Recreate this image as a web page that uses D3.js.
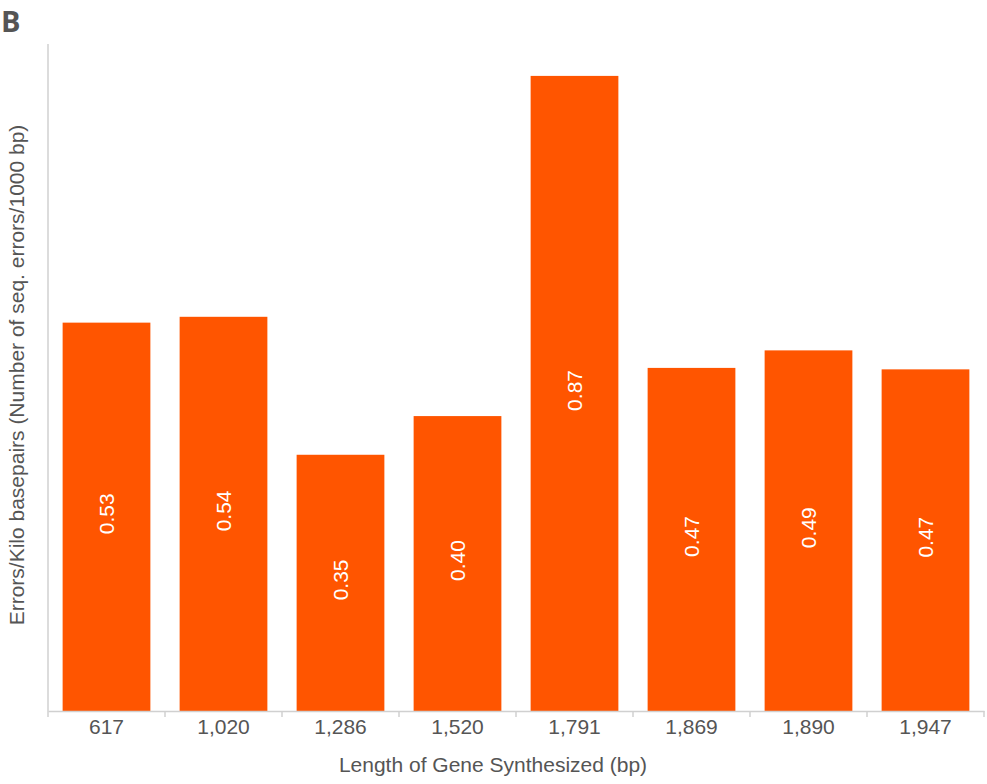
<!DOCTYPE html>
<html><head><meta charset="utf-8">
<script src="https://cdn.jsdelivr.net/npm/d3@7"></script>
<style>body{margin:0;background:#fff}svg{display:block}</style>
</head><body>
<svg id="c" width="987" height="784"></svg>
<script>
const categories = ["617","1,020","1,286","1,520","1,791","1,869","1,890","1,947"];
const values = [0.532,0.540,0.351,0.404,0.870,0.470,0.494,0.468];
const labels = ["0.53","0.54","0.35","0.40","0.87","0.47","0.49","0.47"];

const svg = d3.select("#c");
const font = "'Liberation Sans', Arial, sans-serif";
const fs = 21;
const x = d3.scaleBand().domain(categories).range([48,984]).paddingInner(0.25).paddingOuter(0.125);
const y = d3.scaleLinear().domain([0,0.9137]).range([711,44]);

svg.selectAll("rect.bar").data(values).join("rect")
  .attr("class","bar")
  .attr("x",(d,i)=>x(categories[i]))
  .attr("width",x.bandwidth())
  .attr("y",d=>y(d))
  .attr("height",d=>y(0)-y(d))
  .attr("fill","#ff5500");

svg.selectAll("text.val").data(values).join("text")
  .attr("class","val")
  .attr("transform",(d,i)=>`translate(${x(categories[i])+x.bandwidth()/2+7.5},${(y(d)+y(0))/2-3}) rotate(-90)`)
  .attr("text-anchor","middle")
  .attr("font-family",font).attr("font-size",fs).attr("fill","#fff")
  .text((d,i)=>labels[i]);

// x axis
const xb = d3.scaleBand().domain(categories).range([48,984]);
const gx = svg.append("g").attr("transform","translate(0,711)")
  .call(d3.axisBottom(xb).tickSize(0).tickPadding(8));
gx.select(".domain").attr("stroke","#d0d0d0").attr("stroke-width",1.5);
gx.selectAll("text").attr("font-family",font).attr("font-size",fs).attr("fill","#555");
// boundary ticks
svg.append("g").selectAll("line").data(d3.range(categories.length+1)).join("line")
  .attr("x1",i=>48+i*xb.step()).attr("x2",i=>48+i*xb.step())
  .attr("y1",711).attr("y2",717).attr("stroke","#d0d0d0").attr("stroke-width",1.5);

// y axis line
svg.append("line").attr("x1",48).attr("x2",48).attr("y1",44).attr("y2",711)
  .attr("stroke","#d0d0d0").attr("stroke-width",1.5);

svg.append("text").attr("x",493).attr("y",772).attr("text-anchor","middle")
  .attr("font-family",font).attr("font-size",fs).attr("fill","#555")
  .text("Length of Gene Synthesized (bp)");

svg.append("text").attr("transform","translate(24,375) rotate(-90)").attr("text-anchor","middle")
  .attr("font-family",font).attr("font-size",fs).attr("fill","#555")
  .text("Errors/Kilo basepairs (Number of seq. errors/1000 bp)");

svg.append("text").attr("x",1).attr("y",32)
  .attr("font-family","'Open Sans', 'DejaVu Sans', sans-serif").attr("font-weight","bold").attr("font-size",29).attr("fill","#555")
  .text("B");
</script>
</body></html>
